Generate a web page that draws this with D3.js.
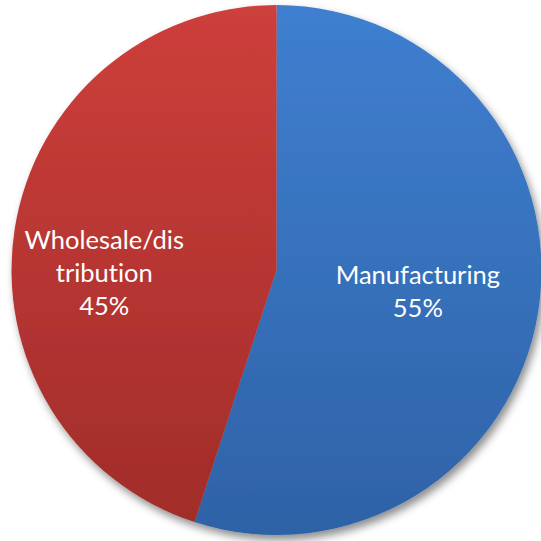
<!DOCTYPE html>
<html>
<head>
<meta charset="utf-8">
<script src="https://cdn.jsdelivr.net/npm/d3@7"></script>
<style>
  html, body { margin: 0; padding: 0; background: #ffffff; }
  svg { display: block; }
  text { font-variant-ligatures: none; font-feature-settings: "liga" 0, "clig" 0; }
</style>
</head>
<body>
<svg id="chart" width="541" height="541"></svg>
<script>
// Share of businesses by sector
const categories = ["Manufacturing", "Wholesale/distribution"];
const shares = [55, 45];
const labelLines = [["Manufacturing", "55%"], ["Wholesale/dis", "tribution", "45%"]];
const topColors = ["#3f7fd0", "#cd3f3b"];
const bottomColors = ["#2e62a6", "#a02c29"];

const width = 541, height = 541;
const cx = 276.5, cy = 270, radius = 265;

// label placement: radial distance (fraction of radius) and block centre
// angle (radians, clockwise from 12 o'clock) for each slice
const labelLayout = [
  { rf: 0.54, angle: null },
  { rf: 0.65, angle: -Math.PI / 2 - 0.02 }
];

const svg = d3.select("#chart");
const defs = svg.append("defs");

// soft drop shadow under the pie
const shadow = defs.append("filter")
  .attr("id", "shadow")
  .attr("x", "-10%").attr("y", "-10%")
  .attr("width", "120%").attr("height", "120%");
shadow.append("feDropShadow")
  .attr("dx", 3).attr("dy", 5)
  .attr("stdDeviation", 4)
  .attr("flood-color", "#000")
  .attr("flood-opacity", 0.45);

// vertical gradient per slice, light at the top, darker at the bottom
categories.forEach((c, i) => {
  const g = defs.append("linearGradient")
    .attr("id", "grad" + i)
    .attr("gradientUnits", "userSpaceOnUse")
    .attr("x1", 0).attr("y1", -radius)
    .attr("x2", 0).attr("y2", radius);
  g.append("stop").attr("offset", "0%").attr("stop-color", topColors[i]);
  g.append("stop").attr("offset", "100%").attr("stop-color", bottomColors[i]);
});

const pie = d3.pie().sort(null).value(d => d)(shares);
const arc = d3.arc().innerRadius(0).outerRadius(radius);

const root = svg.append("g").attr("transform", `translate(${cx},${cy})`);

root.append("g")
  .attr("filter", "url(#shadow)")
  .selectAll("path")
  .data(pie)
  .join("path")
  .attr("d", arc)
  .attr("fill", (d, i) => `url(#grad${i})`);

// labels
const fontSize = 25.5;
const lineH = 33;
root.append("g")
  .selectAll("text")
  .data(pie)
  .join("text")
  .attr("fill", "#ffffff")
  .attr("font-family", "Lato, 'Open Sans', sans-serif")
  .attr("font-size", fontSize)
  .attr("text-anchor", "middle")
  .each(function (d, i) {
    const lay = labelLayout[i];
    const a = lay.angle === null ? (d.startAngle + d.endAngle) / 2 : lay.angle;
    const r = radius * lay.rf;
    const x = r * Math.sin(a);
    const y = -r * Math.cos(a);
    const lines = labelLines[i];
    const t = d3.select(this);
    const y0 = y - (lines.length - 1) * lineH / 2 + fontSize * 0.33;
    lines.forEach((ln, k) => {
      t.append("tspan").attr("x", x).attr("y", y0 + k * lineH).text(ln);
    });
  });
</script>
</body>
</html>
